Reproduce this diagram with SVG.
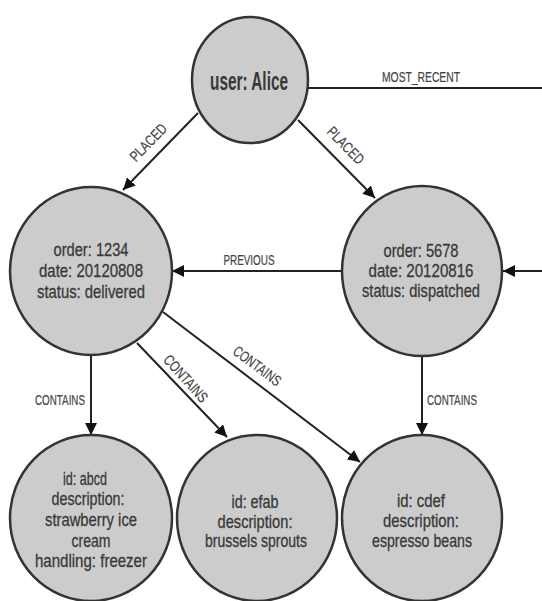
<svg xmlns="http://www.w3.org/2000/svg" width="542" height="601" viewBox="0 0 542 601">
<defs>
<style>
.node{fill:#cccccc;stroke:#333;stroke-width:2.5}
.nt{font-family:"Liberation Sans Narrow","Liberation Sans",Arial,sans-serif;font-size:19px;fill:#383838;stroke:#383838;stroke-width:0.3;text-anchor:middle}
.lbl{font-family:"Liberation Sans Narrow","Liberation Sans",Arial,sans-serif;font-size:15px;fill:#444;stroke:#444;stroke-width:0.2;text-anchor:middle}
.edge{stroke:#222;stroke-width:2;fill:none}
</style>
<marker id="arr" markerUnits="userSpaceOnUse" markerWidth="13" markerHeight="12" refX="12" refY="6" orient="auto">
<path d="M0,0 L12,6 L0,12 z" fill="#111"/>
</marker>
</defs>
<rect width="542" height="601" fill="#fff"/>
<g id="connectors">
<line class="edge" x1="308" y1="88" x2="542" y2="88"/>
<line class="edge" x1="198" y1="113" x2="123" y2="190" marker-end="url(#arr)"/>
<line class="edge" x1="298" y1="120" x2="375" y2="198" marker-end="url(#arr)"/>
<line class="edge" x1="342" y1="271" x2="172" y2="271" marker-end="url(#arr)"/>
<line class="edge" x1="542" y1="271" x2="503" y2="271" marker-end="url(#arr)"/>
<line class="edge" x1="91" y1="355" x2="91" y2="435" marker-end="url(#arr)"/>
<line class="edge" x1="137" y1="343" x2="227" y2="437" marker-end="url(#arr)"/>
<line class="edge" x1="163" y1="312" x2="360" y2="462" marker-end="url(#arr)"/>
<line class="edge" x1="422" y1="356" x2="422" y2="435" marker-end="url(#arr)"/>
<text class="lbl" x="421" y="82" textLength="78" lengthAdjust="spacingAndGlyphs">MOST_RECENT</text>
<text class="lbl" transform="translate(152,146) rotate(-46)" textLength="46" lengthAdjust="spacingAndGlyphs">PLACED</text>
<text class="lbl" transform="translate(342,149) rotate(46)" textLength="46" lengthAdjust="spacingAndGlyphs">PLACED</text>
<text class="lbl" x="249" y="265" textLength="51" lengthAdjust="spacingAndGlyphs">PREVIOUS</text>
<text class="lbl" x="60" y="405" textLength="50" lengthAdjust="spacingAndGlyphs">CONTAINS</text>
<text class="lbl" x="452" y="405" textLength="50" lengthAdjust="spacingAndGlyphs">CONTAINS</text>
<text class="lbl" transform="translate(182,382) rotate(48)" textLength="58" lengthAdjust="spacingAndGlyphs">CONTAINS</text>
<text class="lbl" transform="translate(254,370) rotate(37)" textLength="56" lengthAdjust="spacingAndGlyphs">CONTAINS</text>
</g>
<g id="alice">
<ellipse class="node" cx="250" cy="80" rx="58" ry="63"/>
<text class="nt" x="249" y="90" style="font-size:25px;font-weight:bold;stroke-width:0" textLength="78" lengthAdjust="spacingAndGlyphs">user: Alice</text>
</g>
<g id="order1234">
<ellipse class="node" cx="91" cy="271" rx="81" ry="84"/>
<text class="nt" x="91" y="256" textLength="75" lengthAdjust="spacingAndGlyphs">order: 1234</text>
<text class="nt" x="91" y="277" textLength="104" lengthAdjust="spacingAndGlyphs">date: 20120808</text>
<text class="nt" x="91" y="298" textLength="108" lengthAdjust="spacingAndGlyphs">status: delivered</text>
</g>
<g id="order5678">
<ellipse class="node" cx="422" cy="271" rx="80" ry="85"/>
<text class="nt" x="421" y="257" textLength="75" lengthAdjust="spacingAndGlyphs">order: 5678</text>
<text class="nt" x="421" y="277" textLength="105" lengthAdjust="spacingAndGlyphs">date: 20120816</text>
<text class="nt" x="421" y="297" textLength="118" lengthAdjust="spacingAndGlyphs">status: dispatched</text>
</g>
<g id="item-abcd">
<ellipse class="node" cx="91" cy="518" rx="81" ry="83"/>
<text class="nt" x="85" y="485" textLength="44" lengthAdjust="spacingAndGlyphs">id: abcd</text>
<text class="nt" x="88" y="505" textLength="73" lengthAdjust="spacingAndGlyphs">description:</text>
<text class="nt" x="91" y="526" textLength="92" lengthAdjust="spacingAndGlyphs">strawberry ice</text>
<text class="nt" x="91" y="547" textLength="39" lengthAdjust="spacingAndGlyphs">cream</text>
<text class="nt" x="91" y="567" textLength="112" lengthAdjust="spacingAndGlyphs">handling: freezer</text>
</g>
<g id="item-efab">
<ellipse class="node" cx="257" cy="518" rx="80" ry="83"/>
<text class="nt" x="255" y="508" textLength="47" lengthAdjust="spacingAndGlyphs">id: efab</text>
<text class="nt" x="255" y="528" textLength="75" lengthAdjust="spacingAndGlyphs">description:</text>
<text class="nt" x="256" y="547" textLength="102" lengthAdjust="spacingAndGlyphs">brussels sprouts</text>
</g>
<g id="item-cdef">
<ellipse class="node" cx="422" cy="518" rx="80" ry="83"/>
<text class="nt" x="421" y="507" textLength="48" lengthAdjust="spacingAndGlyphs">id: cdef</text>
<text class="nt" x="421" y="527" textLength="76" lengthAdjust="spacingAndGlyphs">description:</text>
<text class="nt" x="422" y="547" textLength="100" lengthAdjust="spacingAndGlyphs">espresso beans</text>
</g>
</svg>
